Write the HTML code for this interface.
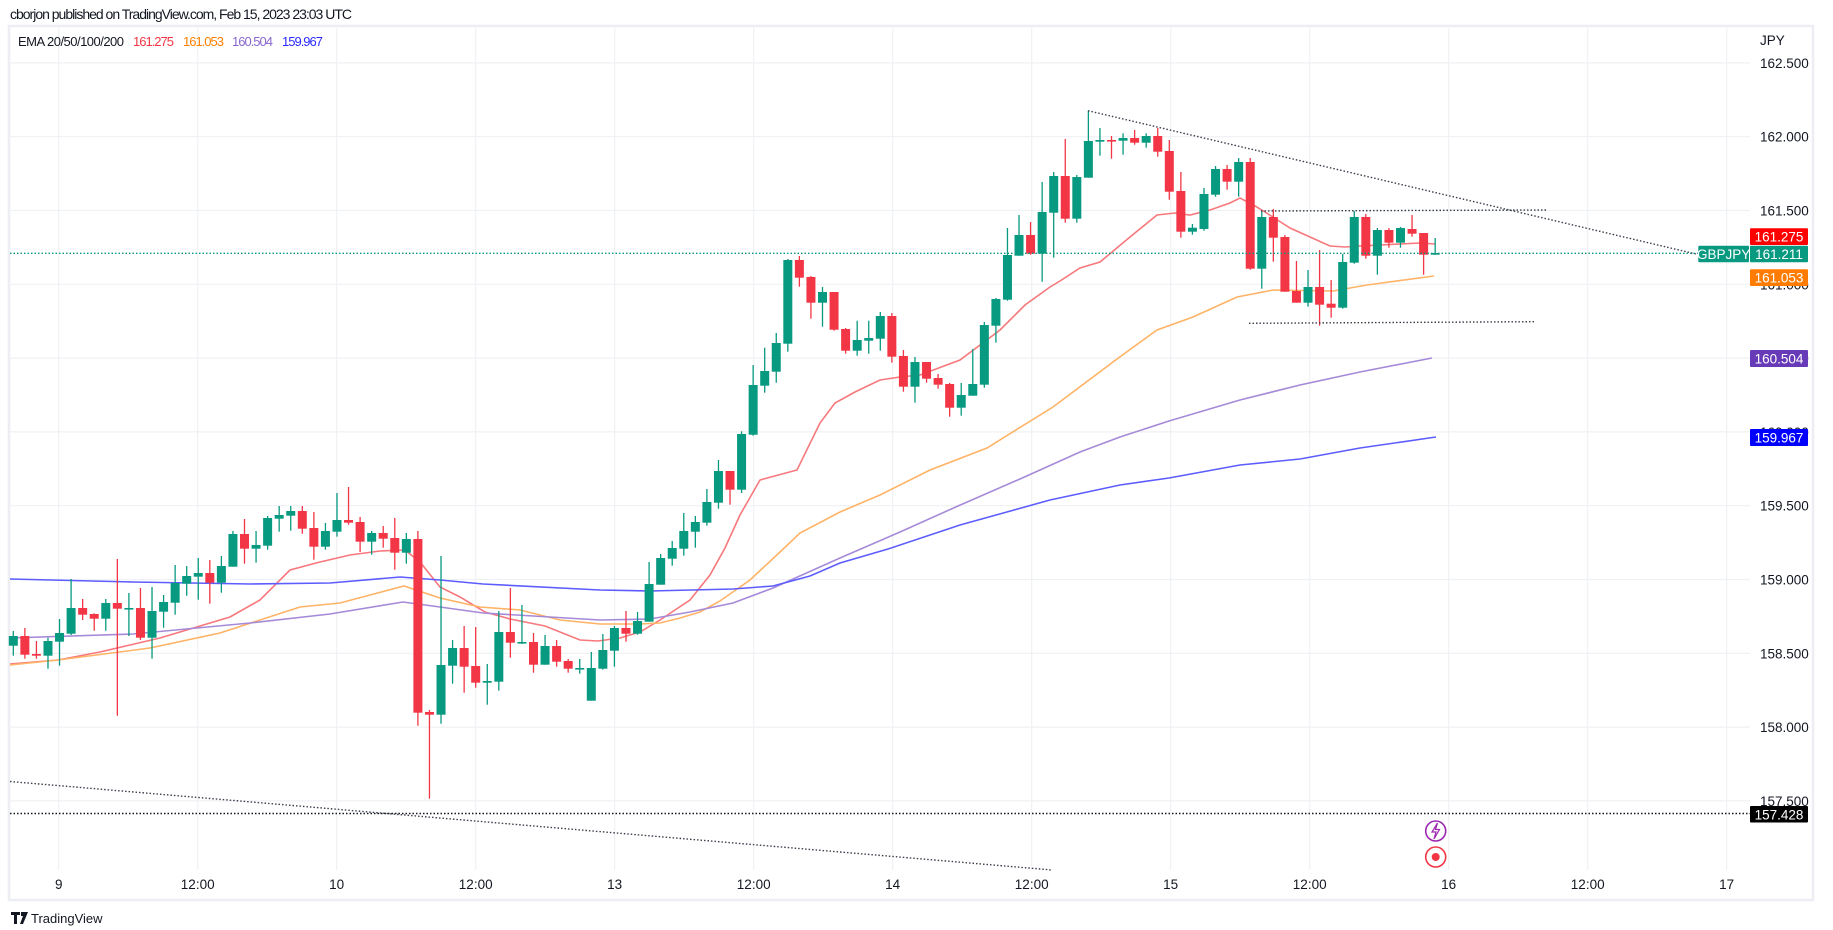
<!DOCTYPE html>
<html><head><meta charset="utf-8"><style>
html,body{margin:0;padding:0;background:#fff;width:1833px;height:930px;overflow:hidden}
svg{display:block}
text{font-family:"Liberation Sans",sans-serif}
</style></head><body>
<svg id="s" width="1833" height="930" viewBox="0 0 1833 930" xmlns="http://www.w3.org/2000/svg">
<rect x="0" y="0" width="1833" height="930" fill="#fff"/>
<text x="10" y="19" font-size="14" fill="#131722" textLength="342">cborjon published on TradingView.com, Feb 15, 2023 23:03 UTC</text>
<rect x="9" y="26" width="1804" height="874" fill="none" stroke="#eceef3" stroke-width="2.5"/>
<g id="grid" stroke="#f0f1f4" stroke-width="1.2"></g>
<g id="lines" fill="none" stroke-width="1.6"></g>
<g id="candles"></g>
<g id="trend" fill="none" stroke="#3a3e4a" stroke-width="1.4" stroke-dasharray="1.5 2"></g>
<g id="axis" font-size="13.5" fill="#131722"></g>
<text x="18" y="46" font-size="13" fill="#131722" textLength="106">EMA 20/50/100/200</text>
<text x="133" y="46" font-size="13" fill="#f23645" textLength="41">161.275</text>
<text x="183" y="46" font-size="13" fill="#ff7f00" textLength="41">161.053</text>
<text x="232" y="46" font-size="13" fill="#8a67cf" textLength="41">160.504</text>
<text x="282" y="46" font-size="13" fill="#2a2aff" textLength="41">159.967</text>
<g id="badges" font-size="13.5" fill="#fff"></g>
<circle cx="1435.7" cy="831" r="10" fill="#fff" stroke="#9c27b0" stroke-width="1.6"/>
<path d="M1437.5 823 L1432 832 L1436 832 L1434 839 L1439.5 829.5 L1435.5 829.5 Z" fill="none" stroke="#9c27b0" stroke-width="1.2"/>
<circle cx="1435.7" cy="857" r="10" fill="#fff" stroke="#f23645" stroke-width="1.6"/>
<circle cx="1435.7" cy="857" r="4" fill="#f23645"/>
<path d="M11 912 h9 v3 h-3 v9 h-3 v-9 h-3z M21 912 h7 l-5 12 h-3 l3-8 h-2z" fill="#131722"/>
<text x="31" y="923" font-size="13" fill="#131722">TradingView</text>
</svg>
<script>
const NS="http://www.w3.org/2000/svg";
function el(p,t,a,txt){const e=document.createElementNS(NS,t);for(const k in a)e.setAttribute(k,a[k]);if(txt!==undefined)e.textContent=txt;document.getElementById(p).appendChild(e);return e;}
const Y=p=>210.5+(161.5-p)*147.6;
const gy=[162.5,162,161.5,161,160.5,160,159.5,159,158.5,158,157.5];
gy.forEach(p=>el("grid","line",{x1:10,x2:1750,y1:Y(p),y2:Y(p)}));
for(let k=0;k<13;k++){const x=58.7+139*k;el("grid","line",{x1:x,x2:x,y1:28,y2:870});}
const tl=["9","12:00","10","12:00","13","12:00","14","12:00","15","12:00","16","12:00","17"];
tl.forEach((t,k)=>el("axis","text",{x:58.7+139*k,y:889,"text-anchor":"middle"},t));
el("axis","text",{x:1760,y:45},"JPY");
gy.forEach(p=>el("axis","text",{x:1760,y:Y(p)+5},p.toFixed(3)));
function pl(pts,c){el("lines","polyline",{points:pts.map(p=>p.join(",")).join(" "),stroke:c});}
pl([[10,664],[58,660],[100,652],[130,645],[160,638],[200,626],[230,617],[260,600],[290,570],[320,562],[350,555],[380,551],[405,550],[420,562],[440,587],[460,597],[485,612],[510,619],[545,626],[580,640],[598,641],[620,638],[640,632],[660,620],[690,600],[710,575],[725,548],[740,515],[760,480],[797,470],[820,423],[835,403],[855,392],[880,380],[900,377],[920,375],[960,360],[1000,330],[1025,305],[1050,287],[1060,281],[1080,268],[1100,262],[1130,237],[1157,215],[1175,213],[1190,215],[1210,210],[1230,203],[1240,198],[1255,206],[1265,212],[1290,228],[1310,237],[1330,246],[1345,247],[1360,246],[1380,245],[1400,244],[1420,243],[1435,244]],"#f7787c");
pl([[10,665],[58,660],[150,648],[220,633],[300,607],[340,603],[404,586],[440,598],[480,607],[520,610],[560,620],[600,624],[640,624],[660,623],[680,618],[700,612],[720,601],[750,580],[780,552],[800,533],[840,512],[880,495],[930,470],[987,448],[1053,407],[1117,359],[1157,330],[1193,317],[1237,297],[1273,290],[1333,291],[1367,285],[1434,276]],"#ffb366");
pl([[10,638],[133,634],[250,623],[330,614],[403,602],[440,607],[483,613],[600,620],[650,619],[690,612],[733,603],[773,588],[840,558],[900,532],[958,506],[1020,479],[1080,452],[1120,437],[1169,421],[1240,400],[1300,385],[1360,372],[1432,358]],"#a58ad8");
pl([[10,579],[133,582],[250,584],[330,583],[400,577],[440,580],[483,584],[600,590],[650,591],[733,589],[773,586],[810,576],[840,563],[888,549],[960,525],[1050,500],[1120,485],[1169,478],[1240,465],[1300,459],[1360,448],[1436,437]],"#5c5cff");
const C=`g 636 645.7 631 655.7
r 636 654.7 628 658.7
r 654 655.7 641 658.7
g 641 655.7 637.7 668.7
g 633 641.7 619 665.7
g 608 633.7 579 635
r 608 614.7 599 620
r 614 618.7 613.3 630.7
g 603 618.7 599 630.7
r 603 608.7 559 715.7
g 608 608.7 593 636
r 608 637.7 588 640
g 611 637.7 587 658.7
g 602 611.7 595 627.7
g 583 602.7 565 614.7
g 576 583.7 566 595.7
g 573 576.7 558 599.7
r 573 582.7 560 603.7
g 566 582.7 556 592.7
g 534 566.7 531 566.7
r 534 548.7 519 563.7
g 545 548.7 531 562.7
g 518 545.7 516 549.7
g 515 518.7 506 531.7
g 511 515.7 506 530.7
r 511 528.7 506 533.7
r 528 546.7 512 559.7
g 531 546.7 523 549.7
g 520 531.7 493 536.7
r 520 522.7 487 524.7
r 522 541.7 517 552
g 533 541.7 531 554.7
r 533 538.7 526 547.7
r 538 552.7 518 569.7
g 539 552.7 533 563.7
r 539 712.7 531 725.7
r 712 714.7 710 798.7
g 665 714.7 556 723.7
g 648 665.7 640 683.7
r 648 666.7 626 692.7
r 666 682.7 627 687.7
g 681 682.7 664 704.7
g 632 681.7 611 690.7
r 632 642.7 588 657.7
g 642 643 605 644
r 642 664.7 633 672.7
g 646 664.7 635 664.7
r 646 661.7 640 666.7
r 661 668.7 659 672.7
g 668 668.7 659 673.7
g 668 700.7 652 700.7
g 650 668.7 634 669.7
g 628 650.7 626 666.7
r 628 633.7 611 641.7
g 621 633.7 612 634.7
g 584 621.7 562 621.7
g 558 584.7 554 584.7
g 548 558.7 541 565.7
g 531 548.7 513 555.7
g 522 531.7 516 547.7
g 502 522.7 489 525.7
g 471 502.7 460 508.7
r 471 489.7 471 504.7
g 434 489.7 431.3 493
g 385 434.7 365 435.7
g 371 385.7 347.7 392.7
g 343 371.7 333 382.7
g 260 343.7 259 351.7
r 260 277.7 256 286.7
r 277 302.7 276 318.7
g 292 302.7 287 326.7
r 292 329.7 292 330.7
r 329 350.7 328 353.7
g 340 350.7 320.7 355.7
g 338 340.7 320.7 353.7
g 316 338.7 312 350.7
r 316 356.7 313 362.7
r 356 386.7 350 391.7
g 362 386.7 357 402.7
r 362 378.7 362 382.7
r 378 384.7 374 388.7
r 384 407.7 383 416.7
g 395 407.7 383 415.7
g 384 395.7 349 395.7
g 325 384.7 322 387.7
g 299 325.7 298 342.7
g 255 299.7 228 300.7
g 235 255.7 215 255.7
r 235 253.7 222 254.7
g 212 253.7 182 281.7
g 176 212.7 172 257.7
r 176 218.7 139 222.7
g 177 218.7 175 222.7
g 141 177.7 110.7 177.7
g 140 141.7 128 155.7
r 140 140.7 136 158.7
g 138 140.7 133.3 154.7
r 138 142.7 130 144.7
g 136 142.7 133.3 147.7
r 136 151.7 128 156.7
r 151 191.7 140 199.7
r 191 231.7 172 237.7
g 227.7 231.7 224 234.7
g 194 229 188 230.7
g 169 194.7 166 196.7
r 169 181.7 165 189.7
g 162 181.7 158 196.7
r 162 268.7 158 269.7
g 217 268.7 211 288.7
r 217 237.7 209 261.7
r 237 291.7 235 291.7
r 291 302.7 261 302.7
g 287 302.7 270 306.7
r 287 304.7 250 325.7
r 303.7 307.7 280 317.7
g 262 307.7 254 308.7
g 217 262.7 211 263.7
r 217 255.7 214 258.7
g 230 255.7 228 274.7
r 230 242.7 228 247.7
g 228 242.7 227 247.7
r 229 233.7 215 236.7
r 233 254.7 233 274.7
g 253 254.7 238 254.7`.split("\n");
C.forEach((l,i)=>{const a=l.trim().split(/\s+/);const c=a[0]=="g"?"#089981":"#f23645";
const x=13.3+i*11.56;const bt=+a[1],bb=+a[2],wt=+a[3],wb=+a[4];
el("candles","rect",{x:x-0.65,y:wt,width:1.3,height:Math.max(wb-wt,1),fill:c});
el("candles","rect",{x:x-4.5,y:bt,width:9,height:Math.max(bb-bt,1.6),fill:c});});
function tl2(x1,y1,x2,y2,c){el("trend","line",{x1,y1,x2,y2,stroke:c||"#3a3e4a"});}
tl2(1088,110.7,1696,254);
tl2(1261,211,1546,210);
tl2(1249,323.3,1534,321.7);
tl2(10,781.5,1052,870);
tl2(10,813.5,1750,813.5,"#131722");
el("trend","line",{x1:10,y1:253.3,x2:1698,y2:253.3,stroke:"#089981"});
function badge(x,y,w,h,bg,t){el("badges","rect",{x,y,width:w,height:h,fill:bg,rx:1});el("badges","text",{x:x+w/2,y:y+h/2+5,"text-anchor":"middle"},t);}
badge(1750,228.3,58,16.7,"#ff0000","161.275");
badge(1698.3,245.7,50.7,16.5,"#089981","GBPJPY");
badge(1750,245.7,58,16.5,"#089981","161.211");
badge(1750,269.3,58,16.7,"#ff7c00","161.053");
badge(1750,350,58,17,"#673ab7","160.504");
badge(1750,429,58,17,"#0000ff","159.967");
badge(1750,806,58,16.5,"#000000","157.428");
</script>
</body></html>
